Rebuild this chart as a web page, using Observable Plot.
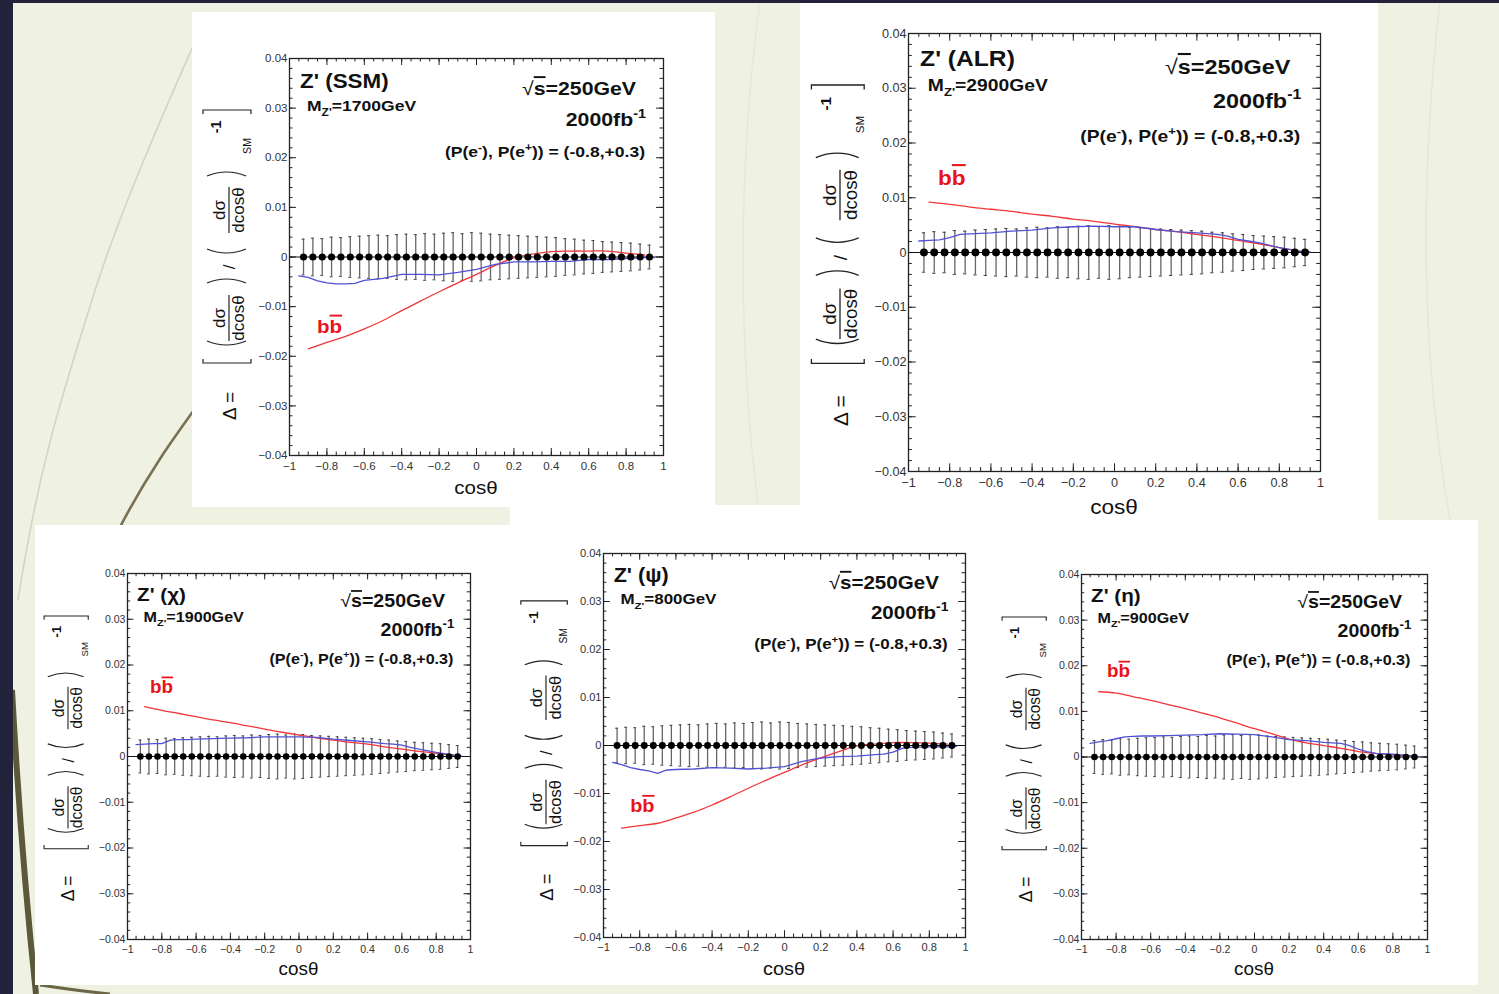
<!DOCTYPE html>
<html>
<head>
<meta charset="utf-8">
<script src="https://cdn.jsdelivr.net/npm/d3@7"></script>
<script src="https://cdn.jsdelivr.net/npm/@observablehq/plot@0.6"></script>
<style>
  html, body { margin:0; padding:0; background:#eff1e3; }
  #stage { position:relative; width:1499px; height:994px; overflow:hidden; background:#eff1e3; }
  #bg { position:absolute; left:0; top:0; }
  .panel { position:absolute; background:#fff; }
  .panel svg { display:block; }
</style>
</head>
<body>
<div id="stage"><svg id="bg" width="1499" height="994"></svg></div>
<script>
// ---------------- DATA ----------------
// SM reference points (bin centres of cos(theta)), all at Delta = 0, with their statistical errors
const xCenters = [-0.925,-0.875,-0.825,-0.775,-0.725,-0.675,-0.625,-0.575,-0.525,-0.475,-0.425,-0.375,-0.325,-0.275,-0.225,-0.175,-0.125,-0.075,-0.025,0.025,0.075,0.125,0.175,0.225,0.275,0.325,0.375,0.425,0.475,0.525,0.575,0.625,0.675,0.725,0.775,0.825,0.875,0.925];
const smValues = [0,0,0,0,0,0,0,0,0,0,0,0,0,0,0,0,0,0,0,0,0,0,0,0,0,0,0,0,0,0,0,0,0,0,0,0,0,0];
const smErrors = [0.0036,0.0038,0.0037,0.0040,0.0039,0.0041,0.0042,0.0043,0.0044,0.0043,0.0045,0.0046,0.0045,0.0047,0.0046,0.0048,0.0049,0.0047,0.0049,0.0048,0.0046,0.0045,0.0044,0.0043,0.0042,0.0041,0.0040,0.0039,0.0037,0.0036,0.0034,0.0033,0.0031,0.0030,0.0029,0.0028,0.0026,0.0024];

// red (b bbar) curves
const redX = [-0.9,-0.8,-0.7,-0.6,-0.5,-0.4,-0.3,-0.2,-0.1,0,0.1,0.2,0.3,0.4,0.5,0.6,0.7,0.8,0.9];
const ssmRed = [-0.0185,-0.0172,-0.0160,-0.0145,-0.0128,-0.0108,-0.0089,-0.0070,-0.0052,-0.0035,-0.0017,-0.0002,0.0006,0.0011,0.0012,0.0012,0.0012,0.0008,0.0004];
const alrRed = [0.0092,0.0088,0.0083,0.0079,0.0075,0.0070,0.0066,0.0061,0.0057,0.0052,0.0047,0.0042,0.0038,0.0033,0.0028,0.0022,0.0016,0.0009,0.0003];
const chiRed = [0.0109,0.0101,0.0094,0.0087,0.0080,0.0074,0.0067,0.0060,0.0053,0.0047,0.0041,0.0036,0.0031,0.0027,0.0021,0.0016,0.0011,0.0007,0.0003];
const psiRed = [-0.0172,-0.0167,-0.0162,-0.0151,-0.0139,-0.0124,-0.0107,-0.0089,-0.0072,-0.0056,-0.0040,-0.0026,-0.0013,-0.0001,0.0003,0.0006,0.0006,0.0005,0.0003];
const etaRed = [0.0143,0.0140,0.0132,0.0124,0.0115,0.0106,0.0096,0.0086,0.0074,0.0062,0.0051,0.0039,0.0031,0.0025,0.0019,0.0012,0.0008,0.0004,0.0001];

// blue curves
const blueX = [-0.95,-0.9,-0.85,-0.8,-0.75,-0.7,-0.65,-0.6,-0.5,-0.4,-0.3,-0.2,-0.1,0,0.1,0.2,0.3,0.4,0.5,0.55,0.6,0.65,0.7,0.8,0.9,0.95];
const ssmBlue = [-0.0038,-0.0041,-0.0048,-0.0052,-0.0054,-0.0054,-0.0053,-0.0047,-0.0043,-0.0035,-0.0035,-0.0036,-0.0031,-0.0025,-0.0015,-0.0010,-0.0010,-0.0009,-0.0009,-0.0007,-0.0005,-0.0005,-0.0005,-0.0003,-0.0001,-0.0001];
const alrBlue = [0.0021,0.0022,0.0023,0.0027,0.0033,0.0034,0.0035,0.0036,0.0039,0.0041,0.0045,0.0047,0.0048,0.0047,0.0047,0.0042,0.0038,0.0036,0.0033,0.0030,0.0024,0.0021,0.0018,0.0009,0.0002,0.0001];
const chiBlue = [0.0026,0.0027,0.0028,0.0028,0.0036,0.0037,0.0037,0.0038,0.0039,0.0040,0.0041,0.0043,0.0043,0.0043,0.0042,0.0038,0.0035,0.0032,0.0028,0.0027,0.0025,0.0020,0.0016,0.0009,0.0003,0.0001];
const psiBlue = [-0.0035,-0.0040,-0.0046,-0.0050,-0.0053,-0.0058,-0.0051,-0.0050,-0.0049,-0.0046,-0.0047,-0.0049,-0.0047,-0.0044,-0.0033,-0.0026,-0.0023,-0.0022,-0.0019,-0.0018,-0.0014,-0.0006,-0.0004,-0.0003,-0.0003,-0.0002];
const etaBlue = [0.0030,0.0033,0.0036,0.0040,0.0044,0.0045,0.0046,0.0046,0.0047,0.0048,0.0049,0.0051,0.0050,0.0049,0.0044,0.0038,0.0036,0.0032,0.0030,0.0025,0.0017,0.0012,0.0008,0.0006,0.0003,0.0001];

// label anchors for "b bbar" (data coordinates)
const bbSSM = [-0.85, -0.0154];
const bbALR = [-0.854, 0.0122];
const bbCHI = [-0.866, 0.0138];
const bbPSI = [-0.85, -0.0140];
const bbETA = [-0.85, 0.0174];

// model names and masses
const modelTitles = ["Z' (SSM)", "Z' (ALR)", "Z' (\u03C7)", "Z' (\u03C8)", "Z' (\u03B7)"];
const modelMasses = ["1700GeV", "2900GeV", "1900GeV", "800GeV", "900GeV"];

// ticks
const xMajorTicks = [-1,-0.8,-0.6,-0.4,-0.2,0,0.2,0.4,0.6,0.8,1];
const xMinorTicks = [-1,-0.95,-0.9,-0.85,-0.8,-0.75,-0.7,-0.65,-0.6,-0.55,-0.5,-0.45,-0.4,-0.35,-0.3,-0.25,-0.2,-0.15,-0.1,-0.05,0,0.05,0.1,0.15,0.2,0.25,0.3,0.35,0.4,0.45,0.5,0.55,0.6,0.65,0.7,0.75,0.8,0.85,0.9,0.95,1];
const yMajorTicks = [-0.04,-0.03,-0.02,-0.01,0,0.01,0.02,0.03,0.04];
const yMinorTicks = [-0.04,-0.038,-0.036,-0.034,-0.032,-0.03,-0.028,-0.026,-0.024,-0.022,-0.02,-0.018,-0.016,-0.014,-0.012,-0.01,-0.008,-0.006,-0.004,-0.002,0,0.002,0.004,0.006,0.008,0.01,0.012,0.014,0.016,0.018,0.02,0.022,0.024,0.026,0.028,0.03,0.032,0.034,0.036,0.038,0.04];

// ---------------- LAYOUT ----------------
const FONT = "'Liberation Sans', Arial, Helvetica, sans-serif";
const panels = [
  {i:0, red: ssmRed, blue: ssmBlue, bb: bbSSM, box:[192,12,523,495], m:{t:46,r:52,b:52,l:97},  s:1.0,   ylab:[37,248]},
  {i:1, red: alrRed, blue: alrBlue, bb: bbALR, box:[800,3,578,517],  m:{t:30,r:58,b:49,l:108}, s:1.1,   ylab:[40,247]},
  {i:2, red: chiRed, blue: chiBlue, bb: bbCHI, box:[35,525,475,460], m:{t:48,r:40,b:46,l:92},  s:0.92,  ylab:[33,229]},
  {i:3, red: psiRed, blue: psiBlue, bb: bbPSI, box:[510,505,470,480],m:{t:48,r:15,b:48,l:93},  s:0.967, ylab:[36,241]},
  {i:4, red: etaRed, blue: etaBlue, bb: bbETA, box:[980,520,498,465],m:{t:54,r:51,b:46,l:101}, s:0.92,  ylab:[46,235]}
];

const fmt = d => d === 0 ? "0" : (d < 0 ? "\u2212" : "") + Math.abs(d);

// ---------------- BACKGROUND ----------------
const bg = d3.select("#bg");
bg.append("path").attr("d","M 200 30 C 165 110 120 210 92 300 S 40 460 18 600").attr("fill","none").attr("stroke","#d8d3bd").attr("stroke-width",1.6);
bg.append("path").attr("d","M 205 395 C 178 432 146 475 116 535").attr("fill","none").attr("stroke","#7a7152").attr("stroke-width",2.6);
bg.append("path").attr("d","M 760 0 C 740 150 735 330 760 520").attr("fill","none").attr("stroke","#e6e8d8").attr("stroke-width",1.5);
bg.append("path").attr("d","M 1440 0 C 1420 180 1420 350 1450 520").attr("fill","none").attr("stroke","#e5e7d6").attr("stroke-width",1.5);
bg.append("path").attr("d","M 12 690 C 18 800 26 900 36 994").attr("fill","none").attr("stroke","#5e583b").attr("stroke-width",6);
bg.append("path").attr("d","M 40 985 C 60 988 80 991 110 994").attr("fill","none").attr("stroke","#6d6646").attr("stroke-width",3);
bg.append("rect").attr("x",0).attr("y",0).attr("width",13).attr("height",994).attr("fill","#22233a");
bg.append("rect").attr("x",0).attr("y",0).attr("width",1499).attr("height",3).attr("fill","#22233a");

// ---------------- HELPERS ----------------
function addText(parent, x, y, parts, o) {
  const fs = o.fs, hs = o.hs || 1;
  const t = parent.append("text")
    .attr("transform", `translate(${x},${y}) scale(${hs},1)`)
    .attr("text-anchor", o.anchor || "start")
    .attr("font-size", fs)
    .attr("font-weight", o.weight || "bold")
    .attr("fill", o.fill || "#111")
    .attr("font-family", FONT);
  let off = 0;
  for (const p of parts) {
    const q = typeof p === "string" ? {t: p} : p;
    const target = q.sub ? 0.3 * fs : q.sup ? -0.42 * fs : 0;
    const ts = t.append("tspan").attr("dy", target - off).text(q.t);
    off = target;
    if (q.sub || q.sup) ts.attr("font-size", fs * 0.68);
    if (q.weight) ts.attr("font-weight", q.weight);
    if (q.overline) ts.attr("text-decoration", "overline");
  }
  return t;
}

function yLabel(svg, cx, cy, s) {
  const g = svg.append("g")
    .attr("transform", `translate(${cx},${cy}) rotate(-90) scale(${s})`)
    .attr("font-family", FONT).attr("fill", "#111");
  const st = {fill: "none", stroke: "#222", "stroke-width": 1.2};
  const path = d => { const e = g.append("path").attr("d", d); for (const k in st) e.attr(k, st[k]); };
  const paren = (c, open) => path(open ? `M ${c+3} -22 Q ${c-5} -2.5 ${c+3} 17` : `M ${c-3} -22 Q ${c+5} -2.5 ${c-3} 17`);
  const bracket = (c, open) => path(open ? `M ${c+4} -26 H ${c} V 22 H ${c+4}` : `M ${c-4} -26 H ${c} V 22 H ${c-4}`);
  const frac = (c) => {
    path(`M ${c-23} 0 H ${c+23}`);
    g.append("text").attr("x", c).attr("y", -4).attr("text-anchor","middle").attr("font-size",17).text("d\u03C3");
    g.append("text").attr("x", c).attr("y", 15).attr("text-anchor","middle").attr("font-size",17).text("dcos\u03B8");
  };
  g.append("text").attr("x", -146).attr("y", 7).attr("font-size", 19).text("\u0394 =");
  bracket(-103, true);
  paren(-84, true);
  frac(-58);
  paren(-20, false);
  g.append("text").attr("x", -7).attr("y", 6).attr("text-anchor","middle").attr("font-size",17).text("/");
  paren(8, true);
  frac(50);
  paren(87, false);
  g.append("text").attr("x", 114).attr("y", 22).attr("text-anchor","middle").attr("font-size",10.5).text("SM");
  g.append("text").attr("x", 133).attr("y", -8).attr("text-anchor","middle").attr("font-size",14).attr("font-weight","bold").text("-1");
  bracket(150, false);
}

// ---------------- PANELS ----------------
const stage = document.getElementById("stage");
for (const p of panels) {
  const [bx, by, W, H] = p.box;
  const s = p.s;
  const fw = W - p.m.l - p.m.r, fh = H - p.m.t - p.m.b;
  const bins = xCenters.map((x, k) => ({x, y: smValues[k], e: smErrors[k]}));
  const red = redX.map((x, k) => ({x, y: p.red[k]}));
  const blue = blueX.map((x, k) => ({x, y: p.blue[k]}));
  const tl = 7 * s, ml = 3.5 * s, capw = 0.008;
  const ink = "#222";

  const chart = Plot.plot({
    width: W, height: H,
    marginTop: p.m.t, marginRight: p.m.r, marginBottom: p.m.b, marginLeft: p.m.l,
    style: {background: "white", fontFamily: FONT, color: "#333", overflow: "visible"},
    x: {domain: [-1, 1]},
    y: {domain: [-0.04, 0.04]},
    marks: [
      Plot.axisX({ticks: xMajorTicks, tickSize: 0, tickPadding: 6 * s, fontSize: 11.5 * s, tickFormat: fmt, label: null}),
      Plot.axisY({ticks: yMajorTicks, tickSize: 0, tickPadding: 2, fontSize: 11.5 * s, tickFormat: fmt, label: null}),
      Plot.tickX(xMajorTicks, {x: d => d, insetTop: fh - tl, stroke: ink}),
      Plot.tickX(xMajorTicks, {x: d => d, insetBottom: fh - tl, stroke: ink}),
      Plot.tickX(xMinorTicks, {x: d => d, insetTop: fh - ml, stroke: ink}),
      Plot.tickX(xMinorTicks, {x: d => d, insetBottom: fh - ml, stroke: ink}),
      Plot.tickY(yMajorTicks, {y: d => d, insetRight: fw - tl, stroke: ink}),
      Plot.tickY(yMajorTicks, {y: d => d, insetLeft: fw - tl, stroke: ink}),
      Plot.tickY(yMinorTicks, {y: d => d, insetRight: fw - ml, stroke: ink}),
      Plot.tickY(yMinorTicks, {y: d => d, insetLeft: fw - ml, stroke: ink}),
      Plot.ruleY([0], {stroke: "#111", strokeWidth: 1}),
      Plot.ruleX(bins, {x: "x", y1: d => d.y - d.e, y2: d => d.y + d.e, stroke: "#666", strokeWidth: 1.3}),
      Plot.ruleY(bins, {y: d => d.y + d.e, x1: d => d.x - capw, x2: d => d.x + capw, stroke: "#444", strokeWidth: 1}),
      Plot.ruleY(bins, {y: d => d.y - d.e, x1: d => d.x - capw, x2: d => d.x + capw, stroke: "#444", strokeWidth: 1}),
      Plot.line(red, {x: "x", y: "y", stroke: "#f0363a", strokeWidth: 1.3, curve: "catmull-rom"}),
      Plot.line(blue, {x: "x", y: "y", stroke: "#5151d4", strokeWidth: 1.3}),
      Plot.dot(bins, {x: "x", y: "y", r: 3.6 * s, fill: "#000", stroke: "none"}),
      Plot.frame({stroke: "#222", strokeWidth: 1.3})
    ]
  });

  const div = document.createElement("div");
  div.className = "panel";
  div.style.left = bx + "px"; div.style.top = by + "px";
  div.style.width = W + "px"; div.style.height = H + "px";
  div.appendChild(chart);
  stage.appendChild(div);

  const svg = d3.select(chart);
  const fl = p.m.l, ft = p.m.t, fr = W - p.m.r, fb = H - p.m.b;
  const ann = svg.append("g");
  addText(ann, fl + 11 * s, ft + 30 * s, [modelTitles[p.i]], {fs: 20 * s, hs: 1.12});
  addText(ann, fl + 18 * s, ft + 53 * s, ["M", {t: "Z'", sub: true}, "=" + modelMasses[p.i]], {fs: 15 * s, hs: 1.17});
  addText(ann, fr - 27 * s, ft + 37 * s, [{t: "\u221A", weight: "normal"}, {t: "s", overline: true}, "=250GeV"], {fs: 19 * s, anchor: "end", hs: 1.12});
  addText(ann, fr - 17 * s, ft + 68 * s, ["2000fb", {t: "-1", sup: true}], {fs: 19 * s, anchor: "end", hs: 1.12});
  addText(ann, fr - 18 * s, ft + 99 * s, ["(P(e", {t: "-", sup: true}, "), P(e", {t: "+", sup: true}, ")) = (-0.8,+0.3)"], {fs: 15 * s, anchor: "end", hs: 1.17});
  const sx = chart.scale("x"), sy = chart.scale("y");
  addText(ann, sx.apply(p.bb[0]), sy.apply(p.bb[1]), ["b", {t: "b", overline: true}], {fs: 19 * s, fill: "#e8141c", hs: 1.08});
  addText(ann, (fl + fr) / 2, fb + 39 * s, ["cos\u03B8"], {fs: 19 * s, weight: "normal", anchor: "middle", hs: 1.08});
  yLabel(svg, p.ylab[0], p.ylab[1], s);
}
</script>
</body>
</html>
